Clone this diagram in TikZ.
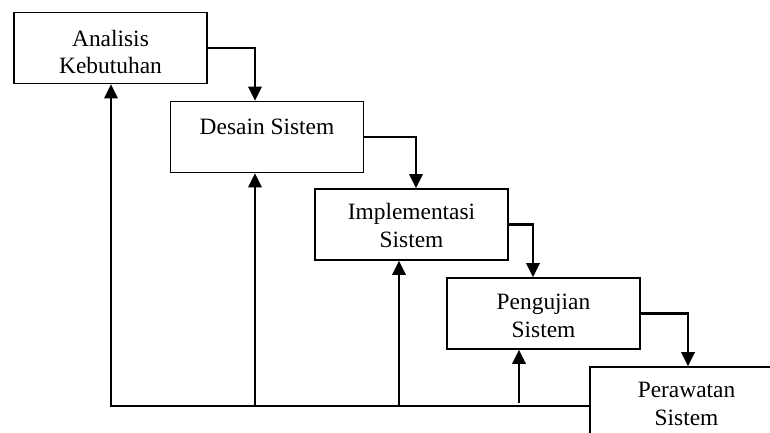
\documentclass[tikz,border=0pt]{standalone}
\usepackage{fontspec}
\setmainfont{Liberation Serif}
\usetikzlibrary{arrows.meta}
\tikzset{
  stagebox/.style={draw=black, line width=1.7pt, rectangle, minimum width=193pt, minimum height=71pt, inner sep=0pt},
  stagetext/.style={anchor=north, inner sep=0pt, align=center, font=\fontsize{23.4}{27.5}\selectfont},
  flow/.style={line width=2.1pt, -{Triangle[width=13.5pt,length=14pt]}}
}
\begin{document}
\begin{tikzpicture}[x=1pt, y=-1pt]
\useasboundingbox (0,0) rectangle (770,432);
\clip (0,0) rectangle (770,432);
% boxes
\node[stagebox] (b1) at (110.5,48) {};
\node[stagebox] (b2) at (267,137) {};
\node[stagebox] (b3) at (411.5,224.5) {};
\node[stagebox] (b4) at (543.5,313.5) {};
\node[stagebox] (b5) at (686.5,402.5) {};
% texts
\node[stagetext] (t1) at ([yshift=-18pt]b1.north) {Analisis\\Kebutuhan};
\node[stagetext] (t2) at ([yshift=-18pt]b2.north) {Desain Sistem};
\node[stagetext] (t3) at ([yshift=-15pt]b3.north) {Implementasi\\Sistem};
\node[stagetext] (t4) at ([yshift=-17pt]b4.north) {Pengujian\\Sistem};
\node[stagetext] (t5) at ([yshift=-16pt]b5.north) {Perawatan\\Sistem};
% forward flow
\draw[flow] (b1.east) -| ([xshift=-12pt]b2.north);
\draw[flow] (b2.east) -| ([xshift=4.5pt]b3.north);
\draw[flow] (b3.east) -| ([xshift=-10.5pt]b4.north);
\draw[flow] (b4.east) -| ([xshift=1.5pt]b5.north);
% feedback
\coordinate (fb) at (590,406);
\coordinate (fb4) at ([xshift=-24.5pt]b4.south |- fb);
\draw[flow] (fb) -| ([xshift=0.5pt]b1.south);
\draw[flow] ([xshift=-12pt]b2.south |- fb) -- ([xshift=-12pt]b2.south);
\draw[flow] ([xshift=-12.5pt]b3.south |- fb) -- ([xshift=-12.5pt]b3.south);
\draw[flow] ([yshift=3pt]fb4) -- ([xshift=-24.5pt]b4.south);
\end{tikzpicture}
\end{document}
